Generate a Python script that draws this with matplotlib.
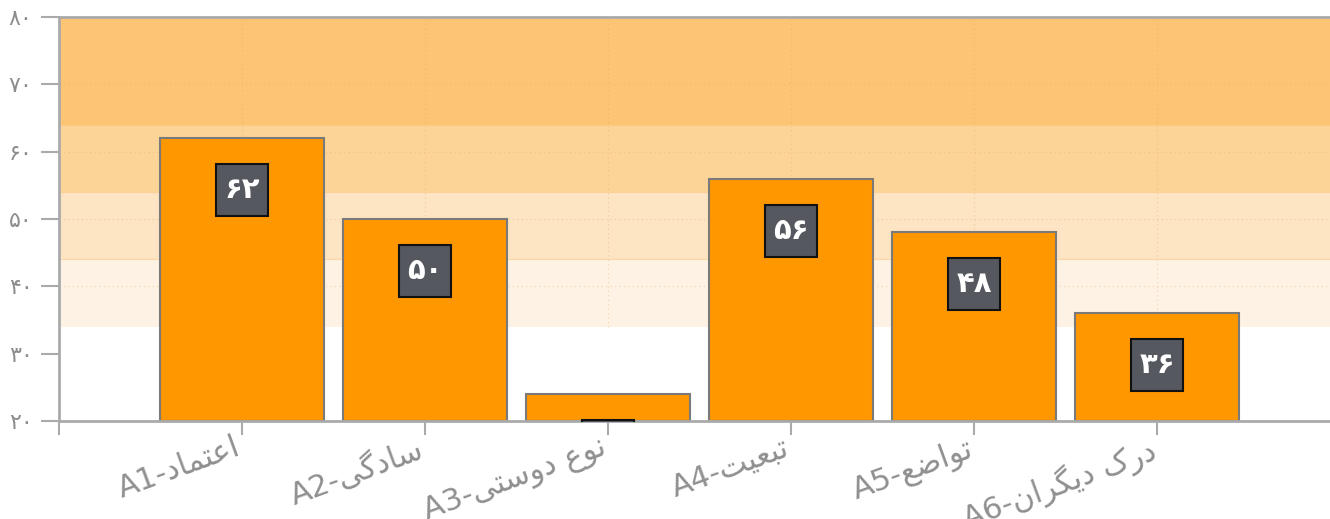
import matplotlib
matplotlib.use("Agg")
import matplotlib.pyplot as plt
from matplotlib.transforms import offset_copy, ScaledTranslation

# ---- data ----
codes = ["A1", "A2", "A3", "A4", "A5", "A6"]
names = ["اعتماد", "سادگی", "نوع دوستی", "تبعیت", "تواضع", "درک دیگران"]
values = [62, 50, 24, 56, 48, 36]
band_edges = [34, 44, 54, 64, 80]
band_colors = ["#fdf2e3", "#fde4c2", "#fdd498", "#fdc473"]
yticks = [20, 30, 40, 50, 60, 70, 80]

# ---- minimal Persian shaping (presentation forms) ----
FORMS = {
    'ا': ('\uFE8D', '\uFE8E', None, None),
    'ب': ('\uFE8F', '\uFE90', '\uFE91', '\uFE92'),
    'ت': ('\uFE95', '\uFE96', '\uFE97', '\uFE98'),
    'د': ('\uFEA9', '\uFEAA', None, None),
    'ر': ('\uFEAD', '\uFEAE', None, None),
    'س': ('\uFEB1', '\uFEB2', '\uFEB3', '\uFEB4'),
    'ض': ('\uFEBD', '\uFEBE', '\uFEBF', '\uFEC0'),
    'ع': ('\uFEC9', '\uFECA', '\uFECB', '\uFECC'),
    'م': ('\uFEE1', '\uFEE2', '\uFEE3', '\uFEE4'),
    'ن': ('\uFEE5', '\uFEE6', '\uFEE7', '\uFEE8'),
    'و': ('\uFEED', '\uFEEE', None, None),
    'ی': ('\uFBFC', '\uFBFD', '\uFBFE', '\uFBFF'),
    'گ': ('\uFB92', '\uFB93', '\uFB94', '\uFB95'),
    'ک': ('\uFB8E', '\uFB8F', '\uFB90', '\uFB91'),
}


def shape_rtl(word):
    out = []
    for i, c in enumerate(word):
        if c not in FORMS:
            out.append(c)
            continue
        prev = word[i - 1] if i > 0 else None
        nxt = word[i + 1] if i + 1 < len(word) else None
        jp = prev in FORMS and FORMS[prev][2] is not None
        jn = FORMS[c][2] is not None and nxt in FORMS
        f = FORMS[c]
        if jp and jn:
            out.append(f[3])
        elif jp:
            out.append(f[1])
        elif jn:
            out.append(f[2])
        else:
            out.append(f[0])
    return ''.join(out)[::-1]


def fa_digits(n):
    return str(n).translate(str.maketrans('0123456789', '۰۱۲۳۴۵۶۷۸۹'))


plt.rcParams['font.family'] = ['DejaVu Sans']

fig = plt.figure(figsize=(13.3, 5.19), dpi=100)
ax = fig.add_axes([59 / 1330, 98 / 519, 1271 / 1330, 404 / 519])

# bands
for lo, hi, col in zip(band_edges[:-1], band_edges[1:], band_colors):
    ax.axhspan(lo, hi, facecolor=col, edgecolor="none", zorder=0)
for e in band_edges[1:-1]:
    ax.axhline(e, color="#fbc47e", linewidth=0.8, alpha=0.6, zorder=0.4)

x = list(range(len(values)))
ax.set_xlim(-1, 5.945)
ax.set_ylim(20, 80)

# faint dotted grid (visible on the bands only)
for yv in yticks[2:-1]:
    ax.axhline(yv, color="#e3a868", linestyle=(0, (1, 3)), linewidth=0.8, alpha=0.45, zorder=0.5)
for xv in x:
    ax.axvline(xv, ymin=(band_edges[0] - 20) / 60, ymax=1, color="#e3a868",
               linestyle=(0, (1, 3)), linewidth=0.8, alpha=0.45, zorder=0.5)

ax.bar(x, [v - 20 for v in values], bottom=20, width=0.9, color="#ff9700",
       edgecolor="#7a7a7a", linewidth=1.5, zorder=2)

# value boxes
trans = offset_copy(ax.transData, fig=fig, x=0, y=-52, units='dots')
for xi, v in zip(x, values):
    ax.plot([xi], [v], marker='s', markersize=38, markerfacecolor="#55585f",
            markeredgecolor="#111111", markeredgewidth=1.5, transform=trans,
            zorder=3, clip_on=True)
    ax.text(xi, v, fa_digits(v), transform=trans, ha='center', va='center',
            color='white', fontsize=21, fontweight='bold', zorder=4, clip_on=True)

# axes styling
for s in ['left', 'bottom', 'top']:
    ax.spines[s].set_color("#aaaaaa")
    ax.spines[s].set_linewidth(2)
ax.spines['right'].set_visible(False)

ax.set_yticks(yticks)
ax.set_yticklabels([fa_digits(t) for t in yticks], color="#8c8c8c", fontsize=16)
ax.tick_params(axis='y', length=13, width=1.5, color="#aaaaaa", pad=6)

ax.set_xticks([-1] + x)
labels = [""] + [c + "-" + shape_rtl(n) for c, n in zip(codes, names)]
ax.set_xticklabels(labels, rotation=20, ha='right', rotation_mode='anchor',
                   color="#909090", fontsize=22)
ax.tick_params(axis='x', length=10, width=1.5, color="#aaaaaa", pad=0)
shift = ScaledTranslation(-8 / 100, 2 / 100, fig.dpi_scale_trans)
for lab in ax.get_xticklabels():
    lab.set_transform(lab.get_transform() + shift)

fig.savefig("out.png", dpi=100)
